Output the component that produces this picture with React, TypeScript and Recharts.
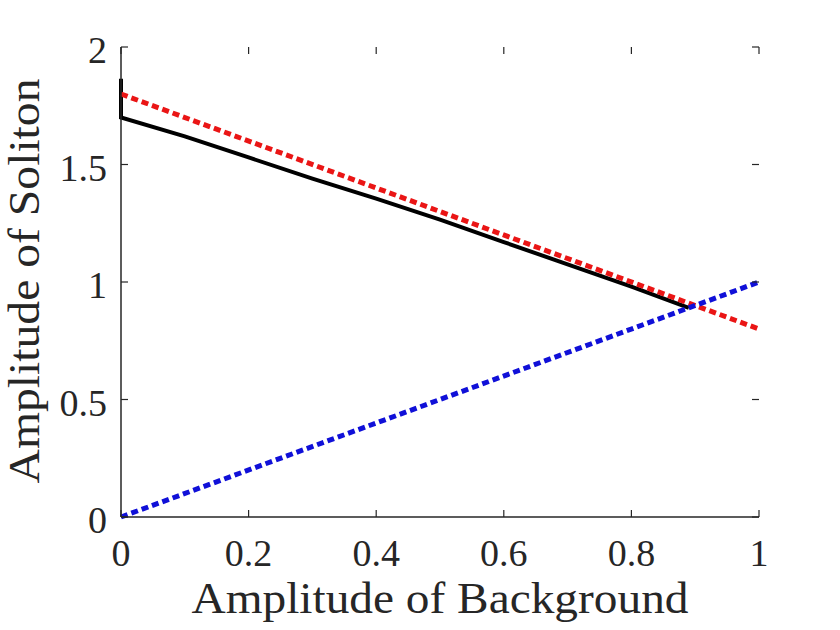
import { LineChart, Line, XAxis, YAxis, Label } from "recharts";

// background amplitude (x) vs soliton amplitude (y)
const numericX = [0, 0, 0.1, 0.2, 0.3, 0.4, 0.5, 0.6, 0.7, 0.8, 0.89];
const numericY = [1.865, 1.7, 1.62, 1.53, 1.44, 1.355, 1.265, 1.17, 1.075, 0.98, 0.89];
const upperX = [0, 1];
const upperY = [1.8, 0.8];
const lowerX = [0, 1];
const lowerY = [0, 1];

const xTicks = [0, 0.2, 0.4, 0.6, 0.8, 1];
const yTicks = [0, 0.5, 1, 1.5, 2];

const toPoints = (xs: number[], ys: number[]) => xs.map((x, i) => ({ x, y: ys[i] }));
const numeric = toPoints(numericX, numericY);
const upper = toPoints(upperX, upperY);
const lower = toPoints(lowerX, lowerY);

const FONT = "'Liberation Serif', 'DejaVu Serif', 'Times New Roman', Times, serif";
const INK = "#262626";
const PLOT = { left: 121, right: 759, top: 47, bottom: 517 };
const TICK = 7;
const textStyle = { fontFamily: FONT };

function XTick(props: any) {
  const { x, payload } = props;
  return (
    <g>
      <line x1={x} x2={x} y1={PLOT.bottom} y2={PLOT.bottom - TICK} stroke={INK} strokeWidth={1.2} />
      <line x1={x} x2={x} y1={PLOT.top} y2={PLOT.top + TICK} stroke={INK} strokeWidth={1.2} />
      <text x={x} y={566} textAnchor="middle" fontSize={38} style={textStyle} fill={INK}>
        {String(payload.value)}
      </text>
    </g>
  );
}

function YTick(props: any) {
  const { y, payload } = props;
  return (
    <g>
      <line x1={PLOT.left} x2={PLOT.left + TICK} y1={y} y2={y} stroke={INK} strokeWidth={1.2} />
      <line x1={PLOT.right} x2={PLOT.right - TICK} y1={y} y2={y} stroke={INK} strokeWidth={1.2} />
      <text x={107} y={y + 16} textAnchor="end" fontSize={38} style={textStyle} fill={INK}>
        {String(payload.value)}
      </text>
    </g>
  );
}

export default function App() {
  return (
    <div style={{ position: "absolute", left: 0, top: 0, width: 840, height: 630, background: "#fff" }}>
      <LineChart width={840} height={630} margin={{ top: 47, right: 81, bottom: 53, left: 61 }}>
        <XAxis
          dataKey="x"
          type="number"
          domain={[0, 1]}
          ticks={xTicks}
          height={60}
          tickLine={false}
          axisLine={{ stroke: INK, strokeWidth: 1.5 }}
          tick={<XTick />}
        >
          <Label
            content={() => (
              <text
                x={440}
                y={613}
                textAnchor="middle"
                fontSize={45}
                style={textStyle}
                fill={INK}
                textLength={497}
                lengthAdjust="spacingAndGlyphs"
              >
                Amplitude of Background
              </text>
            )}
          />
        </XAxis>
        <XAxis
          xAxisId="top"
          orientation="top"
          dataKey="x"
          type="number"
          domain={[0, 1]}
          height={0}
          tick={false}
          tickLine={false}
          axisLine={{ stroke: INK, strokeWidth: 1.5 }}
        />
        <YAxis
          type="number"
          domain={[0, 2]}
          ticks={yTicks}
          width={60}
          tickLine={false}
          axisLine={{ stroke: INK, strokeWidth: 1.5 }}
          tick={<YTick />}
        >
          <Label
            content={() => (
              <text
                x={39}
                y={281}
                transform="rotate(-90, 39, 281)"
                textAnchor="middle"
                fontSize={45}
                style={textStyle}
                fill={INK}
                textLength={405}
                lengthAdjust="spacingAndGlyphs"
              >
                Amplitude of Soliton
              </text>
            )}
          />
        </YAxis>
        <YAxis
          yAxisId="right"
          orientation="right"
          type="number"
          domain={[0, 2]}
          width={0}
          tick={false}
          tickLine={false}
          axisLine={{ stroke: INK, strokeWidth: 1.5 }}
        />
        <Line
          data={numeric}
          dataKey="y"
          type="linear"
          stroke="#000"
          strokeWidth={4}
          dot={false}
          isAnimationActive={false}
        />
        <Line
          data={upper}
          dataKey="y"
          type="linear"
          stroke="#ea1515"
          strokeWidth={5}
          strokeDasharray="7 4"
          dot={false}
          isAnimationActive={false}
        />
        <Line
          data={lower}
          dataKey="y"
          type="linear"
          stroke="#1010d8"
          strokeWidth={5}
          strokeDasharray="7 4"
          dot={false}
          isAnimationActive={false}
        />
      </LineChart>
    </div>
  );
}
